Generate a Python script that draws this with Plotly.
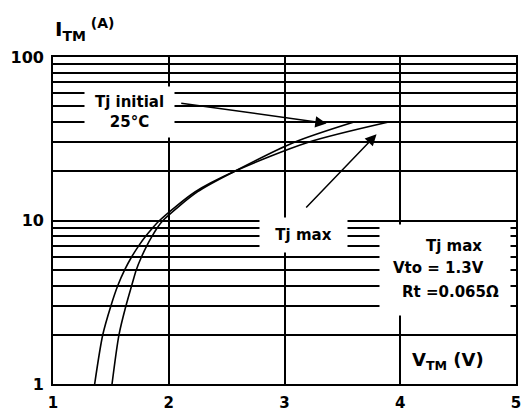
import plotly.graph_objects as go

# ---- data ----
current_a = [1, 2, 3, 4, 5, 6, 7, 8, 9, 10, 15, 20, 30, 40]
v_tj_max = [1.36, 1.43, 1.50, 1.56, 1.62, 1.68, 1.74, 1.80, 1.86, 1.92, 2.23, 2.57, 3.20, 3.90]
v_tj_25 = [1.51, 1.57, 1.63, 1.68, 1.72, 1.765, 1.81, 1.855, 1.90, 1.95, 2.25, 2.57, 3.08, 3.60]

x_ticks = [1, 2, 3, 4, 5]
y_grid = [1, 2, 3, 4, 5, 6, 7, 8, 9, 10, 20, 30, 40, 50, 60, 70, 80, 90, 100]
y_labels = ["1", "", "", "", "", "", "", "", "", "10", "", "", "", "", "", "", "", "", "100"]

FONT = "DejaVu Sans"
fig = go.Figure()

fig.add_trace(go.Scatter(x=v_tj_max, y=current_a, mode="lines", name="Tj max",
                         line=dict(color="black", width=1.6, shape="spline", smoothing=0.8)))
fig.add_trace(go.Scatter(x=v_tj_25, y=current_a, mode="lines", name="Tj initial 25°C",
                         line=dict(color="black", width=1.6, shape="spline", smoothing=0.8)))

txt = dict(family=FONT, size=15, color="black", weight="bold")
ann = []
# white label boxes
ann.append(dict(x=1.663, y=1.664, text="Tj initial<br>25°C", showarrow=False, font=txt,
                bgcolor="white", width=89, height=50, borderpad=0, xref="x", yref="y"))
ann.append(dict(x=3.163, y=0.911, text="Tj max", showarrow=False, font=txt,
                bgcolor="white", width=87, height=34, borderpad=0, xref="x", yref="y"))
ann.append(dict(x=4.385, y=0.697, text=" ", showarrow=False, font=txt,
                bgcolor="white", width=130, height=90, borderpad=0, xref="x", yref="y"))
ann.append(dict(x=4.46, y=(384 - 246) / 163.5, text="Tj max", showarrow=False, font=txt,
                xref="x", yref="y"))
ann.append(dict(x=4.33, y=(384 - 268) / 163.5, text="Vto = 1.3V", showarrow=False, font=txt,
                xref="x", yref="y"))
ann.append(dict(x=4.43, y=(384 - 292) / 163.5, text="Rt =0.065Ω", showarrow=False, font=txt,
                xref="x", yref="y"))
# arrows
ann.append(dict(x=3.363, y=1.594, ax=2.095, ay=1.719, axref="x", ayref="y", xref="x", yref="y",
                text="", showarrow=True, arrowhead=2, arrowsize=1.5, arrowwidth=1.5, arrowcolor="black"))
ann.append(dict(x=3.795, y=1.527, ax=3.175, ay=1.070, axref="x", ayref="y", xref="x", yref="y",
                text="", showarrow=True, arrowhead=2, arrowsize=1.5, arrowwidth=1.5, arrowcolor="black"))
# axis titles
ann.append(dict(x=4.41, y=0.141, text="V<sub>TM</sub> (V)", showarrow=False,
                font=dict(family=FONT, size=18, color="black", weight="bold"),
                xref="x", yref="y"))
ann.append(dict(x=0.0, y=1.135, xanchor="left", text="I<sub>TM</sub><sup> (A)</sup>", showarrow=False,
                font=dict(family=FONT, size=20, color="black", weight="bold"),
                xref="paper", yref="paper"))

fig.update_layout(
    width=527, height=411,
    margin=dict(l=53, r=11, t=57, b=27),
    paper_bgcolor="white", plot_bgcolor="white",
    showlegend=False,
    annotations=ann,
    xaxis=dict(range=[1, 5], tickvals=x_ticks, ticktext=[str(v) for v in x_ticks],
               showgrid=True, gridcolor="black", gridwidth=1.5, zeroline=False,
               showline=True, linecolor="black", linewidth=1.6, mirror=True,
               ticks="", ticklabelstandoff=4, automargin=False,
               tickfont=dict(family=FONT, size=15, color="black", weight="bold")),
    yaxis=dict(type="log", range=[0, 2], tickvals=y_grid, ticktext=y_labels,
               showgrid=True, gridcolor="black", gridwidth=1.5, zeroline=False,
               showline=True, linecolor="black", linewidth=1.6, mirror=True,
               ticks="", ticklabelstandoff=4, automargin=False,
               tickfont=dict(family=FONT, size=16, color="black", weight="bold")),
)

fig.write_html("out.html", config={"displayModeBar": False},
               post_script="document.body.style.margin='0';"
               "document.body.style.overflow='hidden';")
